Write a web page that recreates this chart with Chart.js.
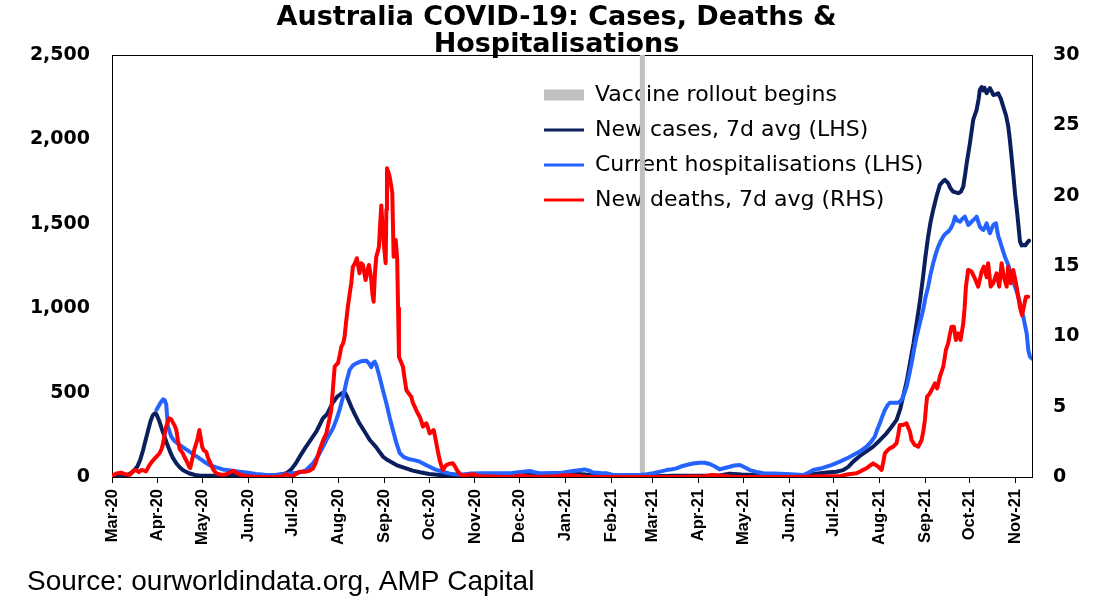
<!DOCTYPE html>
<html>
<head>
<meta charset="utf-8">
<script src="https://cdn.jsdelivr.net/npm/chart.js@4.4.1/dist/chart.umd.min.js"></script>
<style>
html,body{margin:0;padding:0;background:#ffffff;}
#wrap{width:1100px;height:611px;position:relative;}
</style>
</head>
<body>
<div id="wrap"><canvas id="c"></canvas></div>
<script>
// ---------- DATA ----------
// x values are days since 2020-03-01
const titleLines = ['Australia COVID-19: Cases, Deaths &', 'Hospitalisations'];
const sourceText = 'Source: ourworldindata.org, AMP Capital';
const monthLabels = ['Mar-20','Apr-20','May-20','Jun-20','Jul-20','Aug-20','Sep-20','Oct-20','Nov-20','Dec-20','Jan-21',
  'Feb-21','Mar-21','Apr-21','May-21','Jun-21','Jul-21','Aug-21','Sep-21','Oct-21','Nov-21'];
const leftTicks = [0, 500, 1000, 1500, 2000, 2500];
const rightTicks = [0, 5, 10, 15, 20, 25, 30];
const vaccineLabel = 'Vaccine rollout begins';
const vaccineDate = '2021-02-22';
const casesLabel = 'New cases, 7d avg (LHS)';
const hospLabel = 'Current hospitalisations (LHS)';
const deathsLabel = 'New deaths, 7d avg (RHS)';

const casesPts = [[0,3],[6,5],[10,10],[14,30],[17,60],[19,100],[21,160],[23,230],[24.5,280],[26,330],[27.5,365],[29,377],[30,372],[32,330],[34,275],[35.5,239],[37,200],[39,155],[41,115],[43.5,80],[46,55],[48,40],[52,22],[56,12],[60,8],[70,8],[80,12],[90,12],[100,10],[110,12],[115,16],[118,24],[121,45],[124,80],[127,125],[131,180],[135.6,239],[138,270],[142.4,348],[145,370],[149,440],[152,475],[155,496],[157,503],[158.5,480],[161.5,416],[164,370],[167,318],[171,262],[174,219],[178,180],[183,120],[186,100],[192,71],[197,55],[203,38],[208,28],[214,18],[221,12],[230,12],[240,10],[253,16],[265,18],[280,20],[290,18],[300,22],[311,20],[320,15],[329,12],[338,6],[350,4],[365,5],[380,8],[395,8],[410,9],[417,20],[425,15],[433,12],[445,9],[455,8],[469,12],[478,22],[484,28],[489,31],[493.5,41],[497,60],[500.3,91],[504.8,125],[509,150],[513.8,180],[518,215],[522.8,259],[526,295],[529.6,338],[532,400],[534,476],[536.5,570],[538.6,673],[541,790],[543.1,910],[545.5,1050],[547.5,1187],[549,1300],[550.9,1424],[552.5,1510],[554.3,1582],[556.5,1660],[558.8,1730],[561,1752],[562.2,1760],[564.4,1740],[566,1710],[567.8,1690],[571.2,1681],[573,1690],[574.6,1720],[576,1800],[576.9,1858],[579.1,1977],[581.3,2115],[583.6,2174],[585,2240],[585.8,2293],[587,2310],[588.1,2290],[589,2305],[590.4,2273],[591.5,2290],[592.6,2303],[594,2280],[594.9,2263],[596.5,2265],[598.2,2273],[600,2240],[601.6,2194],[603.5,2140],[605,2075],[606,2000],[607.2,1897],[608.5,1780],[609.5,1681],[610.8,1580],[611.7,1503],[612.9,1394],[614,1372],[615.1,1374],[616.5,1372],[617.4,1384],[619,1400]];

const hospPts = [[30,397],[31.5,420],[33.2,446],[34.5,460],[35.5,456],[36.6,430],[37.7,300],[40,239],[42,215],[45.6,190],[49,170],[52.3,150],[56,128],[59,111],[62,92],[65.8,71],[70,58],[74.8,45],[80,38],[86,31],[92,25],[97,18],[103,14],[108.6,12],[113,14],[117.6,18],[122,22],[126.6,26],[129,33],[131,41],[133,58],[135.6,81],[138,110],[140.1,140],[142.5,180],[144.7,219],[147,255],[149.1,288],[151.5,340],[153.6,397],[155.5,460],[157,515],[158.5,575],[160.4,634],[162.5,660],[164.9,673],[168,685],[171.7,689],[173.5,672],[175,650],[176,672],[177.3,683],[178.5,660],[180.6,594],[183,510],[185.2,437],[187.5,350],[189.6,278],[192,200],[194.2,142],[197,118],[200.9,105],[204,100],[207.7,91],[211,75],[214.4,61],[218,45],[223.4,31],[228,20],[234.7,14],[241.4,20],[250,22],[261.7,22],[270,24],[276,30],[282,36],[285,28],[288.7,22],[295,22],[302.2,22],[306,28],[311.2,36],[315,40],[319.1,45],[322,38],[324.7,26],[330,23],[333.7,22],[338.2,12],[345,12],[356.2,12],[361,16],[365.2,22],[370,32],[374.3,41],[378,46],[381,51],[384,62],[387.8,71],[392,80],[396.7,85],[400,84],[403.5,77],[407,62],[410.3,45],[413,52],[417,61],[420,68],[423.8,71],[427,58],[430.5,41],[435,30],[439.5,22],[447,20],[455.3,18],[461,15],[466.5,12],[470,25],[473.3,41],[478,50],[482.3,61],[486,72],[491.3,91],[496,110],[500.3,130],[505,152],[509.3,180],[512.5,210],[514.9,239],[516.5,280],[518.3,318],[520,360],[521.7,397],[523.5,425],[525.1,440],[528,440],[530.7,440],[533,456],[535,500],[536.4,535],[538,600],[539.7,673],[541.5,760],[543.1,831],[545.5,920],[547.5,989],[549,1060],[550.9,1127],[552.5,1200],[554.3,1266],[556,1320],[557.7,1364],[559.5,1400],[561.1,1424],[562.5,1440],[564.4,1453],[566,1470],[567.8,1503],[569,1542],[570.5,1520],[572.4,1512],[574,1530],[575.7,1542],[577,1515],[578,1493],[579.5,1505],[581.3,1522],[582.5,1530],[583.6,1542],[584.8,1510],[585.8,1483],[587,1470],[588.1,1463],[589.3,1480],[590.4,1503],[591.5,1470],[592.6,1444],[593.8,1470],[594.9,1493],[596.7,1503],[597.5,1460],[598.3,1424],[599.5,1395],[600.5,1364],[602.7,1305],[605,1256],[607.2,1187],[609.5,1127],[611,1090],[612.9,1029],[615.1,950],[617.4,851],[618.5,752],[619.6,713],[621,701]];

const deathsPts = [[0,0.1],[3,0.25],[6,0.3],[9,0.2],[12,0.15],[14,0.4],[16.3,0.5],[18,0.35],[20,0.5],[23,0.4],[25.3,0.85],[27,1.1],[28.7,1.3],[30.5,1.5],[32,1.67],[33.5,2.0],[34.3,2.3],[35.5,3.0],[36.6,3.58],[38.4,4.17],[40,4.1],[41,3.9],[42.5,3.6],[43.4,3.34],[44.5,2.6],[45.6,2.0],[47.8,1.68],[49,1.4],[50.5,1.1],[52,0.75],[52.8,0.64],[54,1.2],[55.7,2.0],[57.5,2.6],[59,3.34],[60,2.7],[60.9,2.13],[62,1.9],[63.6,1.78],[65,1.3],[67,0.85],[68.5,0.5],[70.4,0.26],[74,0.15],[77,0.2],[80,0.35],[81.6,0.45],[84,0.3],[86,0.2],[90,0.05],[100,0],[110,0],[115,0.05],[117.6,0.2],[119.5,0.1],[121,0],[124,0.2],[126.6,0.38],[129,0.38],[131,0.38],[133.5,0.45],[135.6,0.6],[137.5,1.0],[140.1,1.92],[142.5,2.6],[144.7,3.1],[146.5,4.0],[148,4.76],[149.3,6.5],[150.3,7.84],[151.5,8.0],[152.5,8.08],[153.8,8.7],[154.8,9.26],[156,9.5],[157,9.97],[158,11.0],[159.2,12.1],[160.4,13.0],[161.5,13.77],[162.6,14.95],[164,15.2],[165.3,15.55],[166.2,15.0],[167.1,14.48],[168.2,15.2],[169.4,15.07],[170.3,14.5],[171.2,14.0],[172.3,14.6],[173.4,15.07],[174.2,14.6],[175,14.0],[175.8,13.0],[176.6,12.46],[177.5,14.5],[178.4,15.66],[179.3,16.0],[180.2,16.37],[181,18.0],[181.8,19.3],[182.6,17.8],[183.3,16.85],[184,16.0],[184.7,15.2],[185.2,19.0],[185.6,21.95],[186.5,21.7],[187.4,21.35],[188.3,20.8],[189.2,20.17],[190.1,15.66],[191,16.5],[191.5,16.85],[192.5,15.5],[193.1,12.0],[193.7,8.55],[195,8.2],[196.4,7.84],[197.5,7.0],[198.7,6.18],[200.5,5.9],[202,5.71],[203,5.3],[204.3,5.0],[206,4.6],[207.7,4.29],[209,3.9],[209.9,3.58],[211,3.7],[212.2,3.82],[213.3,3.5],[214.4,3.1],[215.8,3.2],[217.1,3.34],[218,2.9],[218.9,2.4],[220,1.8],[221.2,1.2],[222.3,0.8],[223.4,0.5],[224.5,0.7],[225.7,0.85],[228,0.95],[230.1,0.97],[231.8,0.7],[233.5,0.38],[236,0.1],[240,0.15],[244,0.2],[248,0.05],[260,0.02],[270,0],[275,0.1],[280,0.05],[286,0],[300,0.05],[305,0.12],[312,0.1],[320,0.02],[340,0],[360,0],[380,0],[400,0.05],[405,0.15],[410,0.1],[420,0],[440,0],[460,0],[480,0.05],[491.3,0.05],[497,0.2],[502.6,0.26],[506,0.45],[509.3,0.62],[511.5,0.8],[513.8,0.97],[515.5,0.85],[517.2,0.74],[519.5,0.5],[520.5,1.0],[521.7,1.68],[523.5,1.9],[525.1,2.04],[527.3,2.16],[529.6,2.4],[530.7,3.0],[531.8,3.7],[534,3.7],[536.3,3.82],[537.5,3.5],[538.6,3.22],[539.7,2.63],[541.9,2.27],[544.2,2.15],[546.5,2.63],[547.7,3.3],[548.7,4.05],[549.5,5.0],[550.2,5.71],[551.8,5.9],[553.2,6.18],[554.3,6.4],[555.5,6.66],[557,6.3],[558.8,7.13],[561.1,7.84],[562.9,9.03],[564.4,9.5],[565.5,10.1],[566.7,10.68],[568.3,10.68],[569.6,9.74],[571.2,10.2],[572.8,9.74],[574.6,10.92],[575.5,12.0],[576.4,13.53],[577.9,14.72],[580.2,14.6],[582.5,14.1],[584.7,13.53],[587,14.6],[588.5,14.95],[590.4,14.2],[591.4,15.19],[593.1,13.53],[594.8,13.77],[597.1,14.48],[598.9,13.53],[600.5,15.19],[602,14.2],[603.9,13.53],[604.9,14.95],[606.6,13.77],[608.3,14.72],[610.2,13.77],[611.7,12.82],[613,12.0],[614.3,11.5],[615.5,12.1],[616.9,12.82],[618.4,12.82]];

// ---------- helpers ----------
const START = Date.UTC(2020, 2, 1);
const DAY = 86400000;
const MONTHS = {Jan:0,Feb:1,Mar:2,Apr:3,May:4,Jun:5,Jul:6,Aug:7,Sep:8,Oct:9,Nov:10,Dec:11};
function labelToDay(l){ const [m,y] = l.split('-'); return Math.round((Date.UTC(2000+ +y, MONTHS[m], 1) - START)/DAY); }
function dateToDay(s){ const [y,m,d] = s.split('-').map(Number); return Math.round((Date.UTC(y, m-1, d) - START)/DAY); }
const monthDays = monthLabels.map(labelToDay);
const vaccineDay = dateToDay(vaccineDate);
const toXY = pts => pts.map(p => ({x: p[0], y: p[1]}));

const NAVY = '#0b1f5e', BLUE = '#2563ff', RED = '#ff0000', GREY = '#c0c0c0';

const frame = {
  id: 'frame',
  beforeDatasetsDraw(chart){
    const {ctx, chartArea: a} = chart;
    ctx.save();
    ctx.strokeStyle = '#000';
    ctx.lineWidth = 1;
    ctx.strokeRect(Math.round(a.left)+0.5, Math.round(a.top)+0.5, Math.round(a.right-a.left), Math.round(a.bottom-a.top));
    ctx.restore();
  }
};
const legendPlace = {
  id: 'legendPlace',
  afterLayout(chart){
    const lg = chart.legend;
    if (!lg) return;
    lg.left = 531; lg.top = 71;
    lg.right = lg.left + lg.width;
    lg.bottom = lg.top + 400;
  }
};

new Chart(document.getElementById('c'), {
  type: 'line',
  data: {
    datasets: [
      {label: vaccineLabel, data: [{x: vaccineDay, y: 0}, {x: vaccineDay, y: 2500}], borderColor: GREY, backgroundColor: GREY, borderWidth: 5, pointRadius: 0, yAxisID: 'y', order: 3},
      {label: casesLabel, data: toXY(casesPts), borderColor: NAVY, backgroundColor: NAVY, borderWidth: 4, pointRadius: 0, yAxisID: 'y', order: 2},
      {label: hospLabel, data: toXY(hospPts), borderColor: BLUE, backgroundColor: BLUE, borderWidth: 4, pointRadius: 0, yAxisID: 'y', order: 1},
      {label: deathsLabel, data: toXY(deathsPts), borderColor: RED, backgroundColor: RED, borderWidth: 4, pointRadius: 0, yAxisID: 'y1', order: 0}
    ]
  },
  options: {
    responsive: true,
    maintainAspectRatio: false,
    animation: false,
    events: [],
    layout: {padding: {left: 27, right: 14, top: 0, bottom: 0}},
    elements: {line: {tension: 0, borderJoinStyle: 'round', borderCapStyle: 'round'}},
    scales: {
      x: {
        type: 'linear', min: 0, max: 621,
        afterBuildTicks: s => { s.ticks = monthDays.map(v => ({value: v})); },
        afterFit: s => { s.height = 88; },
        grid: {drawOnChartArea: false, drawTicks: true, tickLength: 6, color: '#000', lineWidth: 1},
        border: {display: false},
        ticks: {autoSkip: false, minRotation: 90, maxRotation: 90, padding: 6, color: '#000',
          font: {family: 'Liberation Sans', weight: 'bold', size: 16.5},
          callback: (v, i) => monthLabels[i]}
      },
      y: {
        position: 'left', min: 0, max: 2500,
        afterBuildTicks: s => { s.ticks = leftTicks.map(v => ({value: v})); },
        afterFit: s => { s.width = 85; },
        grid: {display: false, drawTicks: false},
        border: {display: false},
        ticks: {padding: 22, color: '#000', font: {family: 'DejaVu Sans', weight: 'bold', size: 19},
          callback: v => v.toLocaleString('en-US')}
      },
      y1: {
        position: 'right', min: 0, max: 30,
        afterBuildTicks: s => { s.ticks = rightTicks.map(v => ({value: v})); },
        afterFit: s => { s.width = 54; },
        grid: {display: false, drawTicks: false},
        border: {display: false},
        ticks: {padding: 21, color: '#000', font: {family: 'DejaVu Sans', weight: 'bold', size: 19}}
      }
    },
    plugins: {
      title: {display: true, text: titleLines, color: '#000',
        font: {family: 'DejaVu Sans', weight: 'bold', size: 27, lineHeight: 0.98},
        padding: {top: 5, bottom: -3}},
      subtitle: {display: true, text: sourceText, position: 'bottom', align: 'start', color: '#000',
        font: {family: 'Liberation Sans', weight: 'normal', size: 28, lineHeight: 1},
        padding: {top: 3, bottom: 15}},
      legend: {
        display: true, position: 'chartArea', align: 'start',
        labels: {
          usePointStyle: true, pointStyleWidth: 40, boxHeight: 11, padding: 13, color: '#000',
          font: {family: 'DejaVu Sans', size: 22},
          sort: (a, b) => a.datasetIndex - b.datasetIndex,
          generateLabels: chart => chart.data.datasets.map((ds, i) => ({
            text: ds.label, datasetIndex: i, hidden: false,
            fillStyle: ds.borderColor, strokeStyle: ds.borderColor,
            lineWidth: i === 0 ? 0 : 3, pointStyle: i === 0 ? 'rect' : 'line', fontColor: '#000'
          }))
        }
      },
      tooltip: {enabled: false}
    }
  },
  plugins: [frame, legendPlace]
});
</script>
</body>
</html>
